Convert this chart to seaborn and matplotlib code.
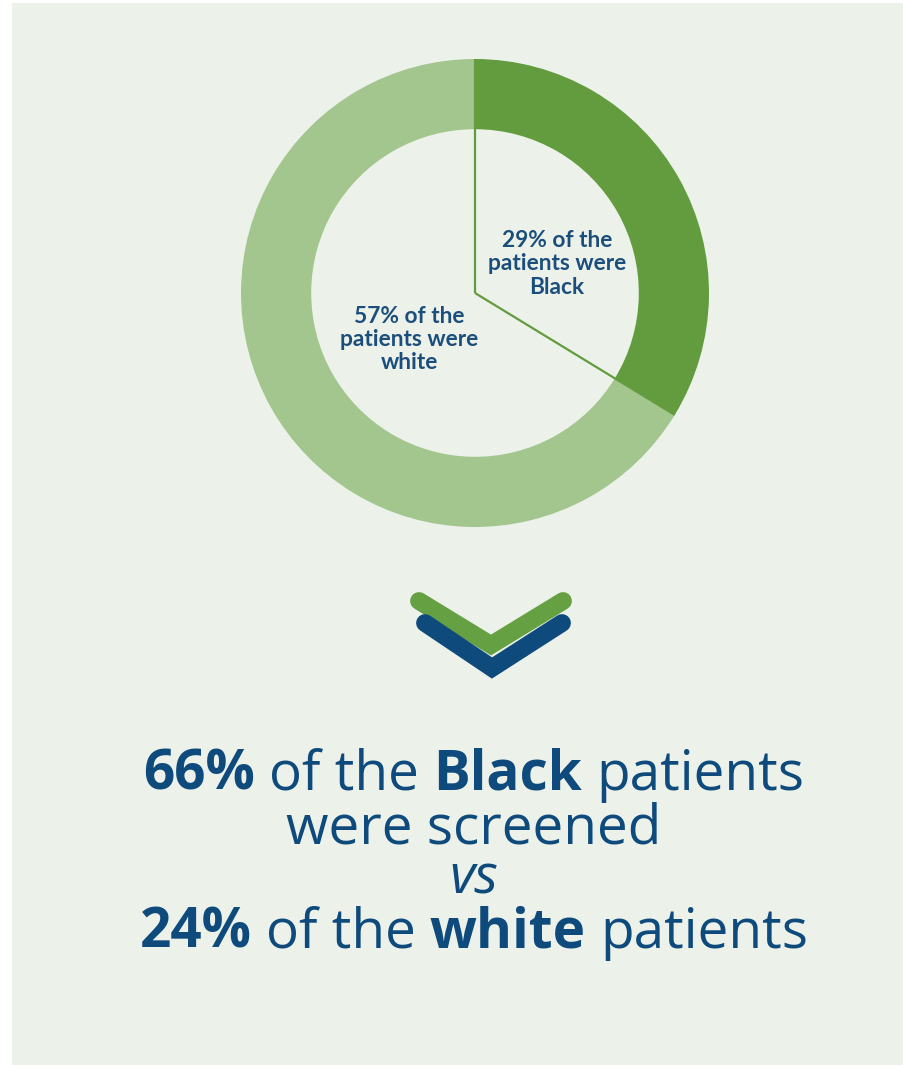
import matplotlib
matplotlib.use("Agg")
import matplotlib.pyplot as plt
import seaborn as sns
import numpy as np
from matplotlib.patches import Rectangle

# ---------------- data ----------------
groups = ["Black", "white"]
shares = [29, 57]                     # % of patients
share_labels = ["29% of the\npatients were\nBlack", "57% of the\npatients were\nwhite"]
screened = [66, 24]                   # % screened

# ---------------- style ----------------
sns.set_theme(style="white")
plt.rcParams["font.family"] = ["Lato", "DejaVu Sans"]

BG = "#ECF2EA"
DARK_GREEN = "#629C3E"
LIGHT_GREEN = "#A3C68E"
NAVY = "#0F4A7D"
LABEL_NAVY = "#1B4E7B"
CHEV_GREEN = "#65A043"

W, H, DPI = 904, 1065, 100
fig = plt.figure(figsize=(W / DPI, H / DPI), dpi=DPI, facecolor="white")

# overlay axes in pixel units (for panel, chevron and headline text)
ov = fig.add_axes([0, 0, 1, 1], zorder=0)
ov.set_xlim(0, W)
ov.set_ylim(H, 0)
ov.axis("off")
ov.add_patch(Rectangle((12, 3), W - 12, H - 3, facecolor=BG, edgecolor="none", zorder=0))

# ---------------- donut ----------------
cx, cy, R = 475, 293, 234
pax = fig.add_axes([(cx - R) / W, 1 - (cy + R) / H, 2 * R / W, 2 * R / H], zorder=2)
pax.set_facecolor("none")
wedges, _ = pax.pie(shares, colors=[DARK_GREEN, LIGHT_GREEN], startangle=90,
                    counterclock=False, radius=1.0,
                    wedgeprops=dict(width=0.30, edgecolor="none", linewidth=0))
pax.set_xlim(-1, 1)
pax.set_ylim(-1, 1)
pax.set_aspect("equal")
pax.axis("off")

total = sum(shares)
bound_angles = [90, 90 - 360 * shares[0] / total]
for a in bound_angles:
    t = np.deg2rad(a)
    pax.plot([0, np.cos(t)], [0, np.sin(t)], color=DARK_GREEN, lw=1.6, zorder=5,
             solid_capstyle="butt")

# labels inside the donut
pax.text(0.35, 0.124, share_labels[0], ha="center", va="center", fontsize=16.4,
         fontweight="bold", color=LABEL_NAVY, linespacing=1.12, family=["Lato", "DejaVu Sans"])
pax.text(-0.282, -0.197, share_labels[1], ha="center", va="center", fontsize=16.4,
         fontweight="bold", color=LABEL_NAVY, linespacing=1.12, family=["Lato", "DejaVu Sans"])

# ---------------- chevron ----------------
ov.plot([419, 491, 563], [601, 645, 601], color=CHEV_GREEN, lw=12.8,
        solid_capstyle="round", solid_joinstyle="miter", zorder=3)
ov.plot([425, 492, 562], [623, 668, 623], color=NAVY, lw=12.8,
        solid_capstyle="round", solid_joinstyle="miter", zorder=4)

# ---------------- headline ----------------
HEAD_FONT = ["Open Sans", "DejaVu Sans"]
FS = 39.5
fig.canvas.draw()
renderer = fig.canvas.get_renderer()


def width_of(s, weight):
    t = ov.text(0, 0, s, fontsize=FS, fontweight=weight, family=HEAD_FONT)
    w = t.get_window_extent(renderer).width
    t.remove()
    return w


space_w = width_of("a a", "normal") - width_of("aa", "normal")


def rich_line(segments, y, center_x=474):
    widths = [width_of(s, wt) for s, wt in segments]
    total_w = sum(widths) + space_w * (len(segments) - 1)
    x = center_x - total_w / 2
    for (s, wt), w in zip(segments, widths):
        ov.text(x, y, s, fontsize=FS, fontweight=wt, family=HEAD_FONT, color=NAVY,
                ha="left", va="baseline", zorder=5)
        x += w + space_w


rich_line([(f"{screened[0]}%", "bold"), ("of the", "normal"), (groups[0], "bold"),
           ("patients", "normal")], 790)
rich_line([("were screened", "normal")], 843)
ov.text(474, 893, "vs", fontsize=FS, style="italic", family=HEAD_FONT, color=NAVY,
        ha="center", va="baseline", zorder=5)
rich_line([(f"{screened[1]}%", "bold"), ("of the", "normal"), (groups[1], "bold"),
           ("patients", "normal")], 948)

fig.savefig("out.png", dpi=DPI, facecolor="white")
